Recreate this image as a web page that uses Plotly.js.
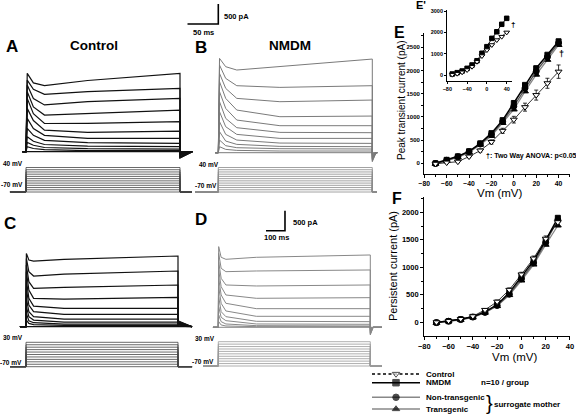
<!DOCTYPE html>
<html><head><meta charset="utf-8">
<script src="https://cdn.plot.ly/plotly-3.0.1.min.js"></script>
<style>html,body{margin:0;padding:0;background:#fff;}#chart{width:576px;height:414px;}</style>
</head><body><div id="chart"></div>
<script>
// ================= DATA =================
// I-V curves (panels E, E', F)
const vmIV = [-70,-60,-50,-40,-30,-20,-10,0,10,20,30,40];
const peakControl = [-10,15,35,145,275,460,700,940,1210,1470,1725,1975];
const peakControlErr = [15,15,20,25,35,45,55,72,86,108,108,144];
const peakNMDM = [0,75,150,260,430,650,930,1300,1690,2050,2340,2630];
const peakNonTg = [-5,65,140,250,415,620,900,1230,1620,1980,2290,2590];
const peakTg = [-10,55,130,235,400,590,870,1160,1550,1910,2230,2550];

const insetControl = [16,63,127,235,390,625,890,1170,1410,1640,1800,2000];
const insetNMDM = [47,110,188,313,470,670,1020,1330,1720,2030,2380,2660];

const vmPersist = [-70,-60,-50,-40,-30,-20,-10,0,10,20,30];
const persControl = [0,25,60,110,225,375,590,870,1160,1520,1820];
const persControlErr = [10,10,15,20,25,30,35,40,45,50,60];
const persNMDM = [-5,20,55,100,190,320,540,830,1120,1490,1900];
const persNonTg = [-5,20,50,95,180,305,510,790,1080,1450,1860];
const persTg = [-10,18,45,90,175,295,495,760,1050,1410,1760];

// Voltage-step protocols (mV)
const stepsAB = [-70,-60,-50,-40,-30,-20,-10,0,10,20,30,40];
const stepsCD = [-70,-60,-50,-40,-30,-20,-10,0,10,20,30];
const holdingMv = -70;
const pulseAB = 250;   // ms
const pulseCD = 800;   // ms

// Current traces (pA) sampled at node times (ms)
const nodesAB = [2,12,30,100];
const nodesCD = [2,15,40,200];
const ctrlA_peak = [0,125,233,375,583,833,1083,1333,1500,1666,1791,1958];
const ctrlA_t12  = [0,80,160,260,410,580,780,950,1120,1330,1560,1720];
const ctrlA_t30  = [0,50,105,180,285,410,540,705,915,1170,1435,1650];
const ctrlA_t100 = [0,25,75,141,225,333,483,708,958,1250,1500,1780];
const ctrlA_end  = [0,25,66,125,208,333,516,750,1041,1333,1583,1958];
const ctrlA_tail = [0,-10,-20,-30,-45,-60,-80,-100,-120,-140,-150,-160];

const nmdmB_peak = [0,150,316,525,775,1025,1275,1525,1775,1983,2190,2358];
const nmdmB_t12  = [0,83,175,291,458,650,858,1108,1358,1608,1858,2150];
const nmdmB_t30  = [0,58,125,208,316,458,625,816,1066,1358,1675,2067];
const nmdmB_t100 = [0,42,100,158,241,358,508,675,900,1275,1633,2150];
const nmdmB_end  = [0,42,92,150,233,358,500,675,916,1316,1675,2341];
const nmdmB_tail = [0,-20,-40,-60,-80,-100,-120,-140,-160,-180,-200,-225];

const ctrlC_peak = [0,166,333,500,708,958,1166,1375,1541,1708,1833];
const ctrlC_t15  = [0,83,150,250,375,541,708,916,1125,1375,1666];
const ctrlC_t40  = [0,50,100,166,250,375,516,708,958,1266,1641];
const ctrlC_t200 = [0,33,66,116,191,308,458,691,983,1316,1683];
const ctrlC_end  = [0,33,66,116,191,308,458,733,1042,1392,1767];
const ctrlC_tail = [0,15,30,45,60,75,90,105,120,135,150];

const nmdmD_peak = [0,141,308,516,766,1016,1225,1433,1641,1850,2017];
const nmdmD_t15  = [0,58,141,250,391,600,808,1016,1225,1475,1750];
const nmdmD_t40  = [0,33,83,166,266,408,600,808,1058,1391,1700];
const nmdmD_t200 = [0,16,41,83,150,275,466,725,1033,1408,1750];
const nmdmD_end  = [0,16,33,75,141,275,466,741,1058,1433,1808];
const nmdmD_tail = [0,-20,-40,-55,-70,-90,-110,-130,-150,-170,-190];

// scale bars
const scaleAB = {ms:50, pA:500};
const scaleCD = {ms:100, pA:500};

// ================= LAYOUT HELPERS =================
const W = 576, H = 414;
const FONT = 'Liberation Sans, Arial, sans-serif';
function axX(p0, p1, oPx, k, oVal){ return {domain:[p0/W, p1/W], range:[oVal+(p0-oPx)/k, oVal+(p1-oPx)/k]}; }
function axY(pt, pb, oPx, k, oVal){ return {domain:[1-pb/H, 1-pt/H], range:[oVal-(pb-oPx)/k, oVal+(oPx-pt)/k]}; }
function hidden(a, anchor){ return Object.assign({visible:false, fixedrange:true, anchor:anchor}, a); }

const traces = [];

function currentSet(xa, ya, nodes, arrs, tail, dur, pre, tailEnd, post, color, width){
  const n = arrs[0].length;
  for (let i=0;i<n;i++){
    traces.push({
      type:'scatter', mode:'lines', xaxis:xa, yaxis:ya, hoverinfo:'skip', showlegend:false,
      x:[pre, 0, nodes[0], nodes[1], nodes[2], nodes[3], dur, dur, tailEnd, post],
      y:[0, 0, arrs[0][i], arrs[1][i], arrs[2][i], arrs[3][i], arrs[4][i], tail[i], 0, 0],
      line:{color:color, width:width}
    });
  }
}
function protocolSet(xa, ya, steps, dur, pre, post, color, width){
  steps.forEach(v=>{
    traces.push({
      type:'scatter', mode:'lines', xaxis:xa, yaxis:ya, hoverinfo:'skip', showlegend:false,
      x:[pre, 0, 0, dur, dur, post], y:[holdingMv, holdingMv, v, v, holdingMv, holdingMv],
      line:{color:color, width:width}
    });
  });
}

// Panels A-D (current traces)
currentSet('x4','y4', nodesAB, [ctrlA_peak,ctrlA_t12,ctrlA_t30,ctrlA_t100,ctrlA_end], ctrlA_tail, pulseAB, -6, 270, 270, '#111', 1.2);
currentSet('x5','y5', nodesAB, [nmdmB_peak,nmdmB_t12,nmdmB_t30,nmdmB_t100,nmdmB_end], nmdmB_tail, pulseAB, -5, 256, 258, '#7a7a7a', 1);
currentSet('x6','y6', nodesCD, [ctrlC_peak,ctrlC_t15,ctrlC_t40,ctrlC_t200,ctrlC_end], ctrlC_tail, pulseCD, -32, 874, 874, '#111', 1.2);
currentSet('x7','y7', nodesCD, [nmdmD_peak,nmdmD_t15,nmdmD_t40,nmdmD_t200,nmdmD_end], nmdmD_tail, pulseCD, -28, 815, 861, '#888', 1);

// Protocols
protocolSet('x8','y8', stepsAB, pulseAB, -26, 269.5, '#444', 0.8);
protocolSet('x9','y9', stepsAB, pulseAB, -37.8, 257.6, '#8a8a8a', 0.8);
protocolSet('x10','y10', stepsCD, pulseCD, -84, 874, '#444', 0.8);
protocolSet('x11','y11', stepsCD, pulseCD, -80.5, 861, '#999', 0.8);

// Scale bars (drawn in the B and D trace coordinates)
const barABbase = 3217, barDx = 351, barDbase = 2415;
traces.push({type:'scatter', mode:'lines', xaxis:'x5', yaxis:'y5', hoverinfo:'skip', showlegend:false,
  x:[-scaleAB.ms, 0, 0], y:[barABbase, barABbase, barABbase+scaleAB.pA], line:{color:'#000', width:1.6}});
traces.push({type:'scatter', mode:'lines', xaxis:'x7', yaxis:'y7', hoverinfo:'skip', showlegend:false,
  x:[barDx-scaleCD.ms, barDx, barDx], y:[barDbase, barDbase, barDbase+scaleCD.pA], line:{color:'#000', width:1.6}});

// I-V series
function ivSeries(xa, ya, xs, ys, sym, size, lineColor, lineW, fill, err){
  const t = {type:'scatter', mode:'lines+markers', xaxis:xa, yaxis:ya, x:xs, y:ys, showlegend:false, hoverinfo:'skip',
    line:{color:lineColor, width:lineW},
    marker:{symbol:sym, size:size, color:fill, line:{color:'#000', width:1}}};
  if (err) t.error_y = {type:'data', array:err, color:'#000', thickness:0.8, width:2};
  return t;
}
traces.push(ivSeries('x','y', vmIV, peakTg, 'triangle-up', 6, '#888', 1.3, '#000'));
traces.push(ivSeries('x','y', vmIV, peakNonTg, 'circle', 6, '#555', 1.3, '#000'));
traces.push(ivSeries('x','y', vmIV, peakNMDM, 'square', 5, '#000', 1.5, '#000'));
traces.push(ivSeries('x','y', vmIV, peakControl, 'triangle-down', 6, '#000', 0.8, '#fff', peakControlErr));

traces.push(ivSeries('x2','y2', vmIV, insetNMDM, 'square', 4.5, '#000', 1, '#000'));
traces.push(ivSeries('x2','y2', vmIV, insetControl, 'triangle-down', 5, '#000', 0.8, '#fff'));

traces.push(ivSeries('x3','y3', vmPersist, persTg, 'triangle-up', 6, '#888', 1.3, '#000'));
traces.push(ivSeries('x3','y3', vmPersist, persNonTg, 'circle', 6, '#555', 1.3, '#000'));
traces.push(ivSeries('x3','y3', vmPersist, persNMDM, 'square', 5, '#000', 1.5, '#000'));
traces.push(ivSeries('x3','y3', vmPersist, persControl, 'triangle-down', 6, '#000', 0.8, '#fff', persControlErr));

// Legend keys (pixel-coordinate overlay axis)
const legendKeys = [
  {y:374,   dash:'3px,2.5px', lc:'#000', sym:'triangle-down', fill:'#fff'},
  {y:382.7, dash:'solid', lc:'#000', sym:'square', fill:'#000'},
  {y:397.3, dash:'solid', lc:'#888', sym:'circle', fill:'#000'},
  {y:409,   dash:'solid', lc:'#888', sym:'triangle-up', fill:'#000'}
];
legendKeys.forEach(k=>{
  traces.push({type:'scatter', mode:'lines+markers', xaxis:'x12', yaxis:'y12', hoverinfo:'skip', showlegend:false,
    x:[372, 396, 420], y:[k.y, k.y, k.y], line:{color:k.lc, width:1.4, dash:k.dash},
    marker:{symbol:k.sym, size:[0,6.5,0], color:k.fill, line:{color:'#000', width:1}}});
});

// ================= AXES =================
const tf = s => ({family:FONT, size:s, color:'#000', weight:'bold'});
function plotAx(a, anchor, dtick, tick0, fs, minor, tl){
  const o = Object.assign({anchor:anchor, showline:true, linecolor:'#000', linewidth:1.2, ticks:'outside', ticklen:tl||3,
    tickwidth:1, tickcolor:'#000', dtick:dtick, tick0:tick0, tickfont:tf(fs), showgrid:false, zeroline:false, fixedrange:true}, a);
  if (minor) o.minor = {dtick:minor, ticks:'outside', ticklen:2, tickcolor:'#000', tickwidth:1, showgrid:false};
  return o;
}

const layout = {
  width:W, height:H, margin:{l:0,r:0,t:0,b:0}, paper_bgcolor:'#fff', plot_bgcolor:'rgba(0,0,0,0)',
  showlegend:false, font:{family:FONT, color:'#000'},
  xaxis: plotAx({domain:[424.3/W, 570/W], range:[-80, 50.2]}, 'y', 20, -80, 6.8, 10),
  yaxis: plotAx(axY(33, 174, 163.3, 0.0464, 0), 'x', 500, 0, 6, 250, 2),
  xaxis2: plotAx(axX(447.3, 511.7, 447.3, 0.495, -80), 'y2', 40, -80, 5.5, null, 2),
  yaxis2: plotAx(axY(10, 81, 75, 0.0213, 0), 'x2', 1000, 0, 5.5, null, 2),
  xaxis3: plotAx(axX(424.3, 570, 424.3, 1.214, -80), 'y3', 20, -80, 7.5, 10),
  yaxis3: plotAx(axY(197.3, 336, 322.3, 0.055, 0), 'x3', 500, 0, 7.5, 250),
  xaxis4: hidden(axX(0, 200, 26, 0.616, 0), 'y4'),
  yaxis4: hidden(axY(50, 170, 151.7, 0.04, 0), 'x4'),
  xaxis5: hidden(axX(185, 385, 218.3, 0.616, 0), 'y5'),
  yaxis5: hidden(axY(0, 170, 152.7, 0.04, 0), 'x5'),
  xaxis6: hidden(axX(0, 200, 26, 0.19, 0), 'y6'),
  yaxis6: hidden(axY(230, 345, 326.7, 0.04, 0), 'x6'),
  xaxis7: hidden(axX(185, 395, 218.3, 0.19, 0), 'y7'),
  yaxis7: hidden(axY(200, 345, 327.3, 0.04, 0), 'x7'),
  xaxis8: hidden(axX(0, 200, 26, 0.616, 0), 'y8'),
  yaxis8: hidden(axY(158, 198, 192, 0.2227, -70), 'x8'),
  xaxis9: hidden(axX(185, 385, 218.3, 0.616, 0), 'y9'),
  yaxis9: hidden(axY(158, 198, 192, 0.2227, -70), 'x9'),
  xaxis10: hidden(axX(0, 200, 26, 0.19, 0), 'y10'),
  yaxis10: hidden(axY(335, 372, 366.7, 0.244, -70), 'x10'),
  xaxis11: hidden(axX(185, 395, 218.3, 0.19, 0), 'y11'),
  yaxis11: hidden(axY(335, 372, 366, 0.243, -70), 'x11'),
  xaxis12: hidden({domain:[0,1], range:[0, W]}, 'y12'),
  yaxis12: hidden({domain:[0,1], range:[H, 0]}, 'x12'),
  annotations: []
};

function note(text, x, y, size, opts){
  layout.annotations.push(Object.assign({text:text, x:x/W, y:1-y/H, xref:'paper', yref:'paper', showarrow:false,
    xanchor:'center', yanchor:'middle', font:{family:FONT, size:size, color:'#000'}, borderpad:0}, opts||{}));
}
note('<b>A</b>', 11.5, 46.5, 17);
note('<b>Control</b>', 94, 45.5, 13.5);
note('<b>B</b>', 200.5, 48, 17);
note('<b>NMDM</b>', 290, 45.5, 13.5);
note('<b>C</b>', 9.5, 224, 17);
note('<b>D</b>', 201, 219, 17);
note('<b>500 pA</b>', 223, 16.5, 7.5, {xanchor:'left'});
note('<b>50 ms</b>', 203, 32, 7.5);
note('<b>500 pA</b>', 292, 223, 7.5, {xanchor:'left'});
note('<b>100 ms</b>', 276, 237.5, 7.5);
note('<b>40 mV</b>', 13, 163.3, 6.5);
note('<b>-70 mV</b>', 12, 184.3, 6.5);
note('<b>40 mV</b>', 208.5, 164, 6.5);
note('<b>-70 mV</b>', 205.5, 185, 6.5);
note('<b>30 mV</b>', 12.5, 337.3, 6.5);
note('<b>-70 mV</b>', 11, 362.3, 6.5);
note('<b>30 mV</b>', 205, 338.3, 6.5);
note('<b>-70 mV</b>', 203, 361.7, 6.5);
note('<b>E</b>', 399, 32.5, 16);
note("<b>E'</b>", 421, 5, 11);
note('<b>F</b>', 397, 198.5, 16);
note('Peak transient current (pA)', 402, 100, 10, {textangle:-90});
note('Persistent current (pA)', 393, 266, 11, {textangle:-90});
note('Vm (mV)', 500, 193, 11.5);
note('Vm (mV)', 515, 357, 11.5);
note('<b>†: Two Way ANOVA: p<0.05</b>', 485, 155.5, 7, {xanchor:'left'});
note('<b>†</b>', 561.5, 54, 9);
note('<b>†</b>', 512.5, 24, 8);
note('<b>Control</b>', 425, 374, 8, {xanchor:'left'});
note('<b>NMDM</b>', 425, 382.7, 8, {xanchor:'left'});
note('<b>Non-transgenic</b>', 425, 397.3, 8, {xanchor:'left'});
note('<b>Transgenic</b>', 425, 409, 8, {xanchor:'left'});
note('<b>n=10 / group</b>', 480, 382.7, 8, {xanchor:'left'});
note('}', 489, 402.5, 20);
note('<b>surrogate mother</b>', 492.7, 404, 8, {xanchor:'left'});

Plotly.newPlot('chart', traces, layout, {staticPlot:true, displayModeBar:false});
</script>
</body></html>
